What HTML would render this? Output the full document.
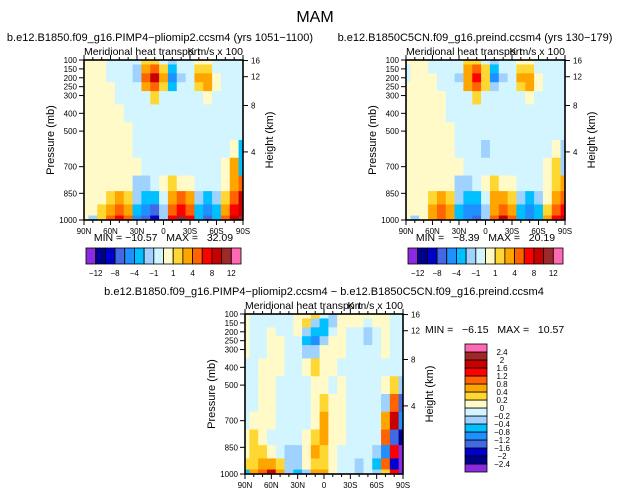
<!DOCTYPE html>
<html><head><meta charset="utf-8"><style>
body{margin:0;background:#fff;}
svg{display:block;font-family:"Liberation Sans",sans-serif;}
.pre{white-space:pre;}
</style></head><body>
<svg id="c" width="631" height="493" viewBox="0 0 631 493" xmlns="http://www.w3.org/2000/svg">
<text x="315" y="22" font-size="16" text-anchor="middle" fill="#000">MAM</text>
</svg>
<script>
const lats=[90,80,70,60,50,40,30,20,10,0,-10,-20,-30,-40,-50,-60,-70,-80,-90];
const pressures=[100,150,200,250,300,400,500,600,700,800,875,950,1000];
const pressureTicks=[100,150,200,250,300,400,500,700,850,1000];
const latTickValues=[90,60,30,0,-30,-60,-90];
const latTickLabels=["90N","60N","30N","0","30S","60S","90S"];
const heightTicks=[16,12,8,4];
const heightTickPressures=[103,194,356,617];
const levelsAbs=[-12,-10,-8,-6,-4,-2,-1,0,1,2,4,6,8,10,12];
const levelLabelsAbs=["-12","","-8","","-4","","-1","","1","","4","","8","","12"];
const levelsDiff=[-2.4,-2,-1.6,-1.2,-0.8,-0.4,-0.2,0,0.2,0.4,0.8,1.2,1.6,2,2.4];
const colors=["#8a2be2","#00008b","#0000cd","#4169e1","#1e90ff","#00bfff","#a0d2ff","#d2f5ff","#fffac8","#ffd732","#ffa500","#ff6400","#ff0000","#c80000","#a02828","#ff69b4"];
const valsPlio=[
[0.5,0.5,0.5,-0.5,-0.5,-0.5,-0.5,1.5,1.5,-0.5,-1.5,-0.5,-0.5,0.5,0.5,-0.5,-0.5,-0.5,-0.5],
[0.5,0.5,0.5,-0.5,-0.5,-0.5,-1.5,3,5,1.5,-3,-0.5,-0.5,1.5,1.5,-0.5,-0.5,-0.5,-0.5],
[0.5,0.5,0.5,-0.5,-0.5,-0.5,-1.5,5,9,3,-5,-1.5,-0.5,3,3,0.5,-0.5,-0.5,-0.5],
[0.5,0.5,0.5,0.5,-0.5,-0.5,-0.5,3,5,1.5,-3,-0.5,-0.5,1.5,3,0.5,-0.5,-0.5,-0.5],
[0.5,0.5,0.5,0.5,-0.5,-0.5,-0.5,-0.5,1.5,-0.5,-0.5,-0.5,-0.5,-0.5,0.5,-0.5,-0.5,-0.5,-0.5],
[0.5,0.5,0.5,0.5,0.5,-0.5,-0.5,-0.5,-0.5,-0.5,-0.5,-0.5,-0.5,-0.5,-0.5,-0.5,-0.5,-0.5,-0.5],
[0.5,0.5,0.5,0.5,0.5,0.5,-0.5,-0.5,-0.5,-0.5,-0.5,-0.5,-0.5,-0.5,-0.5,-0.5,-0.5,-0.5,-0.5],
[0.5,0.5,0.5,0.5,0.5,0.5,-0.5,-0.5,-0.5,-0.5,-0.5,-0.5,-0.5,-0.5,-0.5,-0.5,-0.5,0.5,-3],
[0.5,0.5,0.5,0.5,0.5,0.5,0.5,-0.5,-0.5,-0.5,-0.5,-0.5,-0.5,-0.5,-0.5,-0.5,0.5,3,-3],
[0.5,0.5,0.5,0.5,0.5,0.5,-1.5,-1.5,-0.5,0.5,1.5,0.5,0.5,-0.5,-0.5,-0.5,0.5,3,5],
[0.5,0.5,0.5,1.5,3,1.5,-1.5,-3,-3,-0.5,3,5,3,-1.5,-3,-1.5,1.5,5,9],
[0.5,0.5,1.5,3,5,3,-3,-5,-7,-1.5,5,7,5,-3,-5,-3,3,7,9],
[0.5,-1.5,1.5,5,7,5,-5,-7,-9,-1.5,7,11,7,-3,-7,-3,5,9,11]];
const valsPre=[
[0.5,0.5,0.5,-0.5,-0.5,-0.5,-0.5,1.5,1.5,-0.5,-1.5,-0.5,-0.5,0.5,0.5,-0.5,-0.5,-0.5,-0.5],
[-0.5,0.5,0.5,-0.5,-0.5,-0.5,-0.5,3,5,1.5,-3,-0.5,-0.5,1.5,1.5,-0.5,-0.5,-0.5,-0.5],
[-0.5,0.5,0.5,0.5,-0.5,-0.5,-1.5,3,7,1.5,-5,-1.5,-0.5,3,3,0.5,-0.5,-0.5,-0.5],
[0.5,0.5,0.5,0.5,-0.5,-0.5,-0.5,3,5,1.5,-1.5,-0.5,-0.5,1.5,3,0.5,-0.5,-0.5,-0.5],
[0.5,0.5,0.5,0.5,0.5,-0.5,-0.5,-0.5,1.5,-0.5,-0.5,-0.5,-0.5,-0.5,0.5,-0.5,-0.5,-0.5,-0.5],
[0.5,0.5,0.5,0.5,0.5,-0.5,-0.5,-0.5,-0.5,-0.5,-0.5,-0.5,-0.5,-0.5,-0.5,-0.5,-0.5,-0.5,-0.5],
[0.5,0.5,0.5,0.5,0.5,0.5,-0.5,-0.5,-0.5,-0.5,-0.5,-0.5,-0.5,-0.5,-0.5,-0.5,-0.5,-0.5,-0.5],
[0.5,0.5,0.5,0.5,0.5,0.5,-0.5,-0.5,-0.5,-1.5,-0.5,-0.5,-0.5,-0.5,-0.5,-0.5,-0.5,0.5,-1.5],
[0.5,0.5,0.5,0.5,0.5,0.5,0.5,-0.5,-0.5,-0.5,-0.5,-0.5,-0.5,-0.5,-0.5,-0.5,0.5,1.5,-1.5],
[0.5,0.5,0.5,0.5,0.5,0.5,-1.5,-1.5,-0.5,0.5,1.5,0.5,0.5,-0.5,-0.5,-0.5,0.5,1.5,3],
[0.5,0.5,0.5,1.5,3,1.5,-1.5,-3,-3,-0.5,3,3,1.5,-1.5,-3,-1.5,0.5,3,5],
[0.5,0.5,0.5,3,5,3,-3,-5,-5,-1.5,3,5,3,-3,-5,-3,1.5,5,7],
[0.5,-1.5,0.5,3,5,3,-3,-5,-7,-1.5,5,9,5,-3,-5,-3,3,7,9]];
const valsDiff=[
[0.1,-0.1,-0.1,-0.1,-0.1,-0.1,0.1,0.1,0.3,-0.1,-0.3,0.1,0.1,0.1,0.1,0.1,0.1,-0.1,-0.1],
[0.1,-0.1,-0.1,-0.1,-0.1,-0.1,0.1,0.3,-0.3,-0.6,-0.3,0.1,0.1,0.1,-0.1,0.1,0.1,-0.1,-0.1],
[0.1,-0.1,-0.1,0.1,-0.1,-0.1,0.1,-0.3,-0.6,-0.6,-0.1,0.1,-0.1,-0.1,-0.3,-0.1,0.1,-0.1,-0.1],
[0.1,-0.1,-0.1,0.1,0.1,-0.1,-0.1,-0.6,-1.0,-0.3,0.1,0.1,-0.1,-0.1,-0.3,-0.1,0.1,-0.1,-0.1],
[0.1,-0.1,-0.1,0.1,0.1,-0.1,-0.1,-0.3,-0.3,0.1,0.1,0.1,-0.1,-0.1,-0.1,-0.1,0.1,-0.1,-0.1],
[-0.1,-0.1,0.1,0.1,0.1,-0.1,-0.1,0.1,0.3,0.1,0.1,-0.1,-0.1,-0.1,-0.1,-0.1,-0.1,-0.1,-0.1],
[-0.1,-0.1,0.1,0.1,-0.1,-0.1,-0.1,-0.1,0.1,0.1,-0.1,0.1,-0.1,-0.1,-0.1,-0.1,0.1,0.3,-0.3],
[-0.1,-0.1,0.1,0.1,-0.1,-0.1,-0.1,-0.1,0.1,0.3,0.1,0.1,-0.1,-0.1,-0.1,-0.1,-0.3,1.0,-1.4],
[-0.1,0.1,0.1,0.1,-0.1,-0.1,-0.1,-0.1,0.1,0.6,0.1,0.1,-0.1,-0.1,-0.1,-0.1,0.6,1.8,-1.0],
[0.1,0.3,0.1,-0.1,-0.1,-0.1,-0.1,0.1,0.3,0.6,0.1,0.1,-0.1,-0.1,-0.1,-0.1,1.0,-1.4,-2.2],
[0.1,0.3,0.3,0.1,-0.1,-0.3,-0.3,0.1,0.6,0.3,0.1,-0.1,-0.1,-0.1,-0.1,-0.3,-1.0,1.4,-2.6],
[0.3,0.3,0.6,0.6,0.3,-0.3,-0.3,0.1,0.3,0.3,0.1,-0.1,-0.1,-0.3,-0.1,-0.6,1.0,-1.8,-2.6],
[-0.6,0.6,1.0,1.8,0.6,-0.3,-0.6,-0.3,0.6,0.6,0.1,-0.1,-0.1,-0.3,-0.1,-0.3,0.3,1.4,-2.6]];

const svg=document.getElementById('c');
const NS="http://www.w3.org/2000/svg";
function mk(tag,attrs,parent){const e=document.createElementNS(NS,tag);for(const k in attrs)e.setAttribute(k,attrs[k]);(parent||svg).appendChild(e);return e;}
function txt(x,y,s,size,anchor,parent){const t=mk('text',{x:x,y:y,'font-size':size,'text-anchor':anchor||'start',fill:'#000'},parent);t.textContent=s;return t;}
function colorFor(v,levels){let i=0;while(i<levels.length&&v>=levels[i])i++;return colors[i];}

function panel(name,x0,y0,w,h,vals,levels,title,titleX,titleY,minmax,mmX,mmY,mmAnchor){
  const g=mk('g',{});
  
  
  const xs=lat=>x0+(90-lat)/180*w;
  const ys=p=>y0+(p-100)/900*h;
  for(let r=0;r<pressures.length;r++){
    const pt=r===0?100:(pressures[r-1]+pressures[r])/2;
    const pb=r===pressures.length-1?1000:(pressures[r]+pressures[r+1])/2;
    for(let c=0;c<lats.length;c++){
      const la=c===0?90:(lats[c-1]+lats[c])/2;
      const lb=c===lats.length-1?-90:(lats[c]+lats[c+1])/2;
      const rc=mk('rect',{x:xs(la),y:ys(pt),width:xs(lb)-xs(la)+0.5,height:ys(pb)-ys(pt)+0.5,fill:colorFor(vals[r][c],levels)},g);
      
      
    }
  }
  const fr=mk('rect',{x:x0,y:y0,width:w,height:h,fill:'none',stroke:'#000','stroke-width':1.6},g);
  
  
  for(let lat=90;lat>=-90;lat-=10){
    const X=xs(lat),big=lat%30===0;
    mk('line',{x1:X,y1:y0+h,x2:X,y2:y0+h+(big?5:3),stroke:'#000'},g);
    mk('line',{x1:X,y1:y0,x2:X,y2:y0-(big?5:3),stroke:'#000'},g);
  }
  latTickValues.forEach((lat,i)=>{const t=txt(xs(lat),y0+h+14,latTickLabels[i],8,'middle',g);
    
    });
  pressureTicks.forEach(p=>{const Y=ys(p);mk('line',{x1:x0,y1:Y,x2:x0-5,y2:Y,stroke:'#000'},g);
    const t=txt(x0-7,Y+3,String(p),8,'end',g);
    
    });
  heightTicks.forEach((hk,i)=>{const Y=ys(heightTickPressures[i]);mk('line',{x1:x0+w,y1:Y,x2:x0+w+5,y2:Y,stroke:'#000'},g);
    const t=txt(x0+w+8,Y+3,String(hk),8,'start',g);
    
    });
  const yl=txt(0,0,'Pressure (mb)',11,'middle',g);yl.setAttribute('transform',`translate(${x0-30},${y0+h/2}) rotate(-90)`);
  
  
  const hl=txt(0,0,'Height (km)',11,'middle',g);hl.setAttribute('transform',`translate(${x0+w+30},${y0+h/2}) rotate(-90)`);
  
  
  const st=txt(x0,y0-5,'Meridional heat transport',10.5,'start',g);
  
  
  const un=txt(x0+w,y0-5,'K m/s x 100',10.5,'end',g);
  
  
  const tt=txt(titleX,titleY,title,11,'middle',g);
  
  
  const mm=txt(mmX,mmY,minmax,10.5,mmAnchor,g);
  mm.setAttribute('class','pre');
  
  
}
function hbar(name,x0,y0,w,h){
  const g=mk('g',{});
  
  
  const bw=w/colors.length;
  colors.forEach((c,i)=>{const r=mk('rect',{x:x0+i*bw,y:y0,width:bw,height:h,fill:c,stroke:'#000','stroke-width':0.8},g);
    
    });
  levelLabelsAbs.forEach((s,i)=>{if(!s)return;const t=txt(x0+(i+1)*bw,y0+h+12,s.replace('-','\u2212'),8,'middle',g);
    
    });
}
panel('panel-pliomip2',84,60,159,160,valsPlio,levelsAbs,'b.e12.B1850.f09_g16.PIMP4\u2212pliomip2.ccsm4 (yrs 1051\u22121100)',160,41,'MIN = \u221210.57   MAX =   32.09',163.5,241,'middle');
panel('panel-preind',406,60,159,160,valsPre,levelsAbs,'b.e12.B1850C5CN.f09_g16.preind.ccsm4 (yrs 130\u2212179)',475,41,'MIN =   \u22128.39   MAX =   20.19',485.5,241,'middle');
panel('panel-difference',245,314,158,160,valsDiff,levelsDiff,'b.e12.B1850.f09_g16.PIMP4\u2212pliomip2.ccsm4 \u2212 b.e12.B1850C5CN.f09_g16.preind.ccsm4',324,295,'MIN =   \u22126.15   MAX =   10.57',425,333,'start');
hbar('colorbar-pliomip2',86,248,155,16);
hbar('colorbar-preind',408,248,155,16);
(function(){
  const g=mk('g',{});
  
  
  const x0=465,y0=344,w=22,h=128,bh=h/colors.length;
  colors.forEach((c,i)=>{const r=mk('rect',{x:x0,y:y0+h-(i+1)*bh,width:w,height:bh,fill:c,stroke:'#000','stroke-width':0.8},g);
    
    });
  levelsDiff.forEach((v,i)=>{const t=txt(x0+w+15,y0+h-(i+1)*bh+3,String(v).replace('-','\u2212'),8,'middle',g);
    
    });
})();
</script>
</body></html>
